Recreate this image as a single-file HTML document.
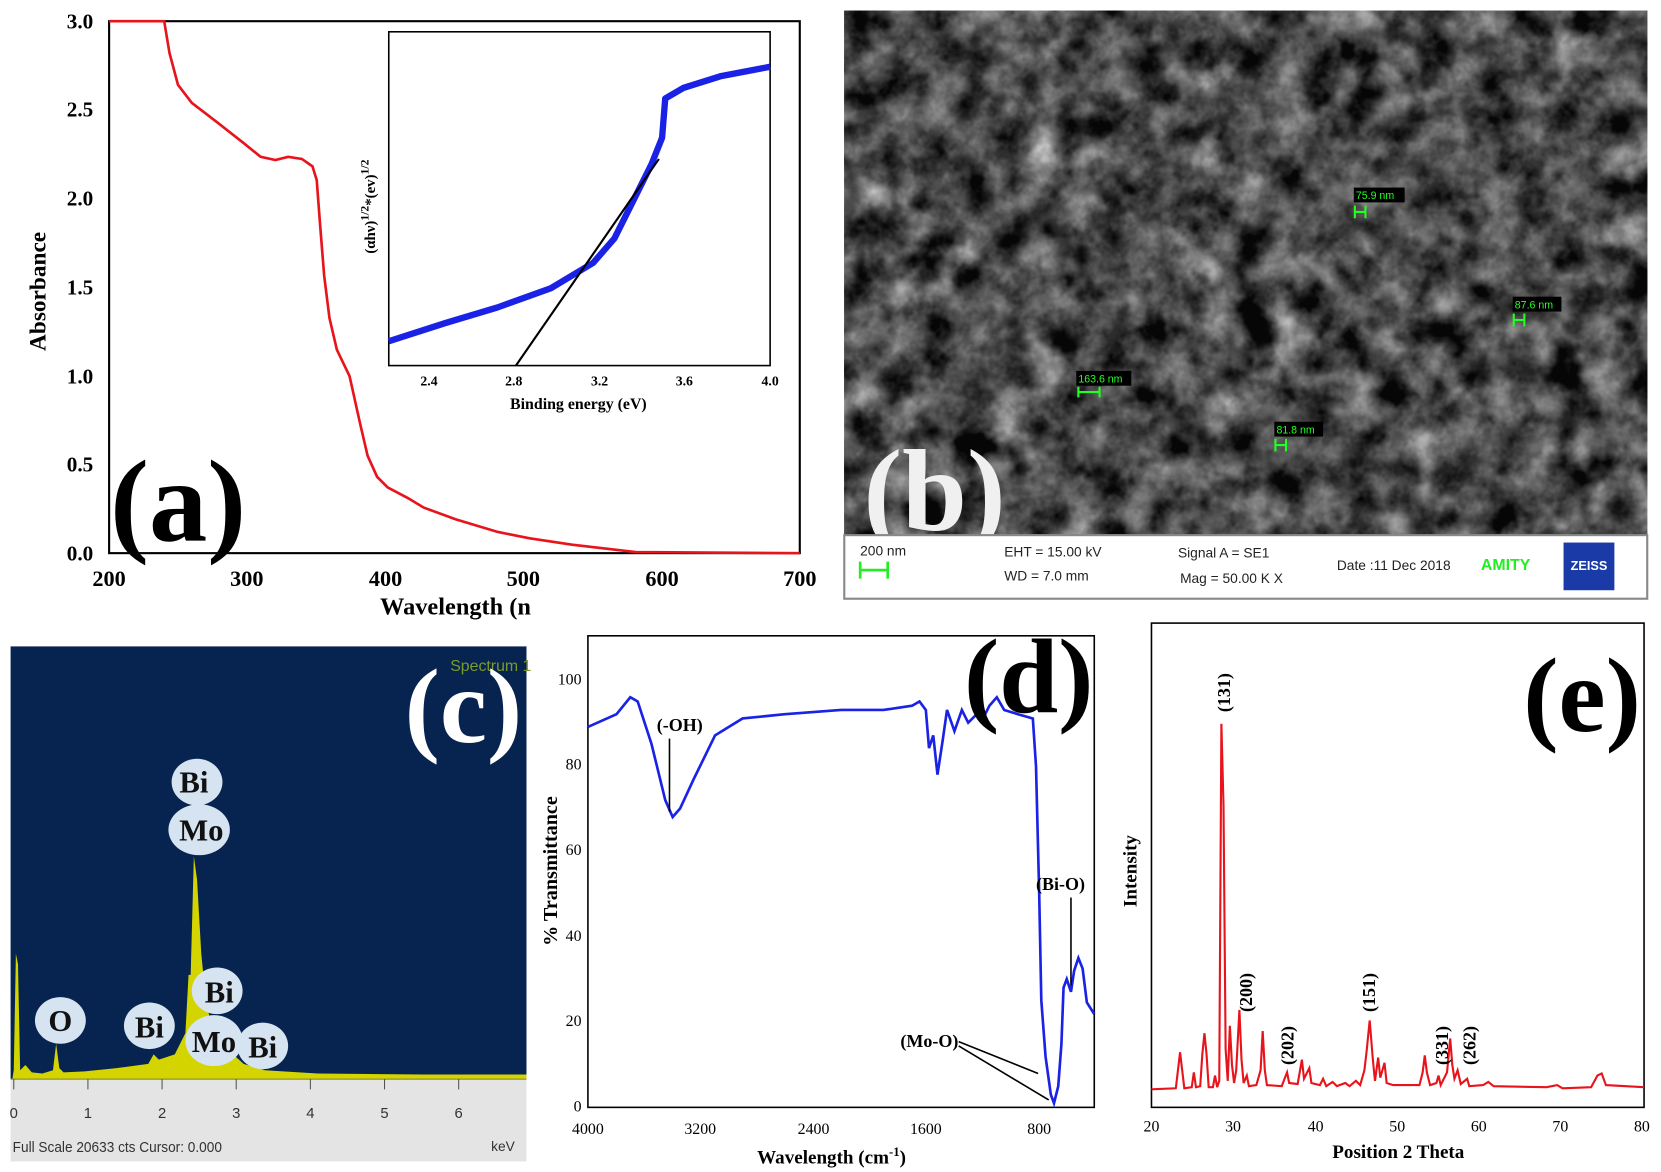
<!DOCTYPE html>
<html><head><meta charset="utf-8"><style>html,body{margin:0;padding:0;background:#fff}svg{display:block}</style></head><body>
<svg width="1661" height="1172" viewBox="0 0 1568 1106" preserveAspectRatio="none" xmlns="http://www.w3.org/2000/svg" font-family="Liberation Serif, serif">
<defs>
<filter id="sem" x="0" y="0" width="100%" height="100%" color-interpolation-filters="sRGB">
<feTurbulence type="fractalNoise" baseFrequency="0.03" numOctaves="4" seed="7"/>
<feColorMatrix type="matrix" values="0.33 0.33 0.33 0 0  0.33 0.33 0.33 0 0  0.33 0.33 0.33 0 0  0 0 0 0 1"/>
<feComponentTransfer><feFuncR type="linear" slope="2.2" intercept="-0.78"/><feFuncG type="linear" slope="2.2" intercept="-0.78"/><feFuncB type="linear" slope="2.2" intercept="-0.78"/></feComponentTransfer>
</filter>
</defs>
<rect width="1568" height="1106" fill="#fff"/>

<!-- Panel a -->
<rect x="103" y="20" width="652" height="502" fill="none" stroke="#000" stroke-width="2"/>
<g font-weight="bold" font-size="20" text-anchor="end">
<text x="88" y="27">3.0</text><text x="88" y="110">2.5</text><text x="88" y="194">2.0</text><text x="88" y="278">1.5</text><text x="88" y="362">1.0</text><text x="88" y="445">0.5</text><text x="88" y="529">0.0</text>
</g>
<g font-weight="bold" font-size="21" text-anchor="middle">
<text x="103" y="553">200</text><text x="233" y="553">300</text><text x="364" y="553">400</text><text x="494" y="553">500</text><text x="625" y="553">600</text><text x="755" y="553">700</text>
</g>
<text x="430" y="580" font-weight="bold" font-size="23" text-anchor="middle">Wavelength (n</text>
<text transform="translate(43,275) rotate(-90)" font-weight="bold" font-size="22" text-anchor="middle">Absorbance</text>
<polyline fill="none" stroke="#e8141c" stroke-width="2.5" points="103,20 155,20 160,50 168,80 181,97 207,117 230,135 246,148 260,151 272,148 285,150 295,157 299,170 302,210 306,260 311,300 318,330 330,355 340,400 347,430 356,450 366,460 385,470 400,479 430,490 470,502 500,508 540,514 600,521 755,522"/>
<text x="104" y="510" font-weight="bold" font-size="110">(a)</text>
<rect x="367" y="30" width="360" height="315" fill="#fff" stroke="#000" stroke-width="1.5"/>
<polyline fill="none" stroke="#1a22e6" stroke-width="6" stroke-linejoin="round" points="367,322 420,305 470,290 520,272 560,248 580,225 600,185 615,155 625,130 628,93 645,83 680,72 727,63"/>
<line x1="487" y1="345" x2="622" y2="150" stroke="#000" stroke-width="2"/>
<g font-weight="bold" font-size="13" text-anchor="middle">
<text x="405" y="364">2.4</text><text x="485" y="364">2.8</text><text x="566" y="364">3.2</text><text x="646" y="364">3.6</text><text x="727" y="364">4.0</text>
</g>
<text x="546" y="386" font-weight="bold" font-size="15" text-anchor="middle">Binding energy (eV)</text>
<text transform="translate(354,195) rotate(-90)" font-weight="bold" font-size="14" text-anchor="middle">(αhν)<tspan dy="-6" font-size="11">1/2</tspan><tspan dy="6">*(ev)</tspan><tspan dy="-6" font-size="11">1/2</tspan></text>

<!-- Panel b -->
<rect x="797" y="10" width="758" height="495" fill="#2a2a2a"/>
<rect x="797" y="10" width="758" height="495" filter="url(#sem)" opacity="0.85"/>
<text x="815" y="500" font-size="110" font-weight="bold" fill="#f0f0f0">(b)</text>
<g font-family="Liberation Sans, sans-serif" font-size="10" fill="#2f2">
<rect x="1278" y="177" width="48" height="14" fill="#000"/><text x="1280" y="188">75.9 nm</text>
<rect x="1428" y="280" width="46" height="14" fill="#000"/><text x="1430" y="291">87.6 nm</text>
<rect x="1016" y="350" width="52" height="14" fill="#000"/><text x="1018" y="361">163.6 nm</text>
<rect x="1203" y="398" width="46" height="14" fill="#000"/><text x="1205" y="409">81.8 nm</text>
</g>
<g stroke="#2f2" stroke-width="2" fill="none">
<path d="M1279,194v12M1289,194v12M1279,200h10"/><path d="M1429,296v12M1439,296v12M1429,302h10"/><path d="M1018,365v10M1038,365v10M1018,370h20"/><path d="M1204,414v12M1214,414v12M1204,420h10"/>
</g>
<rect x="797" y="505" width="758" height="60" fill="#fff" stroke="#888" stroke-width="2"/>
<g font-family="Liberation Sans, sans-serif" font-size="13" fill="#222">
<text x="812" y="524">200 nm</text><text x="948" y="525">EHT = 15.00 kV</text><text x="948" y="548">WD =  7.0 mm</text>
<text x="1112" y="526">Signal A = SE1</text><text x="1114" y="550">Mag =  50.00 K X</text><text x="1262" y="538">Date :11 Dec 2018</text>
</g>
<text x="1398" y="538" font-family="Liberation Sans, sans-serif" font-size="15" font-weight="bold" fill="#2e2">AMITY</text>
<path d="M812,530v16M838,530v16M812,538h26" stroke="#2e2" stroke-width="2.5"/>
<rect x="1476" y="512" width="48" height="45" fill="#1a3aa8"/>
<text x="1500" y="538" font-family="Liberation Sans, sans-serif" font-size="12" font-weight="bold" fill="#fff" text-anchor="middle">ZEISS</text>

<!-- Panel c -->
<rect x="10" y="610" width="487" height="408" fill="#06244f"/>
<rect x="10" y="1018" width="487" height="78" fill="#e4e4e4"/>
<line x1="10" y1="1018" x2="497" y2="1018" stroke="#555" stroke-width="1.5"/>
<g stroke="#555" stroke-width="1"><path d="M13,1018v10M83,1018v10M153,1018v10M223,1018v10M293,1018v10M363,1018v10M433,1018v10"/></g>
<g font-family="Liberation Sans, sans-serif" font-size="14" fill="#333" text-anchor="middle">
<text x="13" y="1055">0</text><text x="83" y="1055">1</text><text x="153" y="1055">2</text><text x="223" y="1055">3</text><text x="293" y="1055">4</text><text x="363" y="1055">5</text><text x="433" y="1055">6</text>
</g>
<text x="486" y="1086" font-family="Liberation Sans, sans-serif" font-size="13" fill="#333" text-anchor="end">keV</text>
<text x="12" y="1087" font-family="Liberation Sans, sans-serif" font-size="14" fill="#333" transform="scale(0.92,1) translate(1,0)">Full Scale 20633 cts Cursor: 0.000</text>
<text x="425" y="633" font-family="Liberation Sans, sans-serif" font-size="15" fill="#7a9a2a">Spectrum 1</text>
<polygon fill="#d4d400" points="12,1016 13,1010 15,900 17,910 19,1010 24,1005 30,1012 40,1013 50,1010 53,985 56,1008 60,1012 80,1011 110,1008 140,1004 145,995 150,1000 165,995 175,975 178,920 180,920 183,808 186,830 190,900 193,930 200,975 210,990 220,995 230,1004 250,1010 300,1013 400,1014 497,1014 497,1018 12,1018"/>
<g fill="#d6e4f2">
<ellipse cx="186" cy="738" rx="24" ry="22"/><ellipse cx="188" cy="783" rx="29" ry="24"/>
<ellipse cx="57" cy="963" rx="24" ry="22"/><ellipse cx="141" cy="968" rx="24" ry="22"/>
<ellipse cx="205" cy="935" rx="24" ry="22"/><ellipse cx="202" cy="982" rx="27" ry="24"/><ellipse cx="248" cy="987" rx="24" ry="22"/>
</g>
<g font-weight="bold" font-size="29" text-anchor="middle" fill="#111">
<text x="183" y="748">Bi</text><text x="190" y="793">Mo</text><text x="57" y="973">O</text><text x="141" y="979">Bi</text>
<text x="207" y="946">Bi</text><text x="202" y="993">Mo</text><text x="248" y="998">Bi</text>
</g>
<text x="382" y="700" font-weight="bold" font-size="100" fill="#fff">(c)</text>

<!-- Panel d -->
<rect x="555" y="600" width="478" height="445" fill="none" stroke="#000" stroke-width="1.5"/>
<g font-size="15" text-anchor="end">
<text x="549" y="1049">0</text><text x="549" y="968">20</text><text x="549" y="888">40</text><text x="549" y="807">60</text><text x="549" y="726">80</text><text x="549" y="646">100</text>
</g>
<g font-size="15" text-anchor="middle">
<text x="555" y="1070">4000</text><text x="661" y="1070">3200</text><text x="768" y="1070">2400</text><text x="874" y="1070">1600</text><text x="981" y="1070">800</text>
</g>
<text x="785" y="1098" font-weight="bold" font-size="18" text-anchor="middle">Wavelength (cm<tspan dy="-7" font-size="12">-1</tspan><tspan dy="7">)</tspan></text>
<text transform="translate(526,822) rotate(-90)" font-weight="bold" font-size="19" text-anchor="middle">% Transmittance</text>
<polyline fill="none" stroke="#1a22e6" stroke-width="2.5" points="555,686 582,674 595,658 602,662 615,702 628,755 635,771 642,763 655,735 675,694 701,678 741,674 794,670 834,670 861,666 868,662 874,670 877,706 881,694 885,731 890,698 894,670 901,690 908,670 914,682 921,675 928,678 934,666 941,658 948,670 961,674 975,678 978,723 981,843 983,944 987,997 992,1033 995,1041 999,1025 1002,985 1004,932 1007,924 1011,936 1014,916 1018,904 1022,914 1026,946 1033,957"/>
<text x="620" y="690" font-weight="bold" font-size="17">(-OH)</text>
<line x1="632" y1="697" x2="632" y2="766" stroke="#000" stroke-width="1.5"/>
<text x="978" y="840" font-weight="bold" font-size="17">(Bi-O)</text>
<line x1="1011" y1="847" x2="1011" y2="930" stroke="#000" stroke-width="1.5"/>
<text x="850" y="988" font-weight="bold" font-size="17">(Mo-O)</text>
<path d="M905,983 L980,1013 M905,987 L990,1038" stroke="#000" stroke-width="1.5"/>
<text x="910" y="672" font-weight="bold" font-size="100">(d)</text>

<!-- Panel e -->
<rect x="1087" y="588" width="465" height="457" fill="none" stroke="#000" stroke-width="1.5"/>
<g font-size="15" text-anchor="middle">
<text x="1087" y="1068">20</text><text x="1164" y="1068">30</text><text x="1242" y="1068">40</text><text x="1319" y="1068">50</text><text x="1396" y="1068">60</text><text x="1473" y="1068">70</text><text x="1550" y="1068">80</text>
</g>
<text x="1320" y="1093" font-weight="bold" font-size="18" text-anchor="middle">Position 2 Theta</text>
<text transform="translate(1073,822) rotate(-90)" font-weight="bold" font-size="18" text-anchor="middle">Intensity</text>
<polyline fill="none" stroke="#e8141c" stroke-width="2" points="1087,1028 1110,1027 1112,1010 1114,993 1116,1010 1118,1027 1125,1026 1127,1012 1129,1026 1133,1025 1135,995 1137,975 1139,995 1141,1026 1145,1026 1147,1015 1149,1026 1151,1020 1153,683 1155,760 1157,990 1159,1020 1161,968 1163,1005 1165,1022 1167,1010 1170,953 1172,1000 1174,1022 1177,1015 1179,1025 1186,1024 1190,1010 1192,973 1194,1010 1196,1024 1210,1025 1213,1017 1215,1012 1217,1022 1225,1023 1229,1000 1231,1018 1236,1008 1238,1022 1246,1024 1249,1018 1252,1025 1258,1021 1262,1025 1270,1022 1274,1025 1280,1020 1284,1024 1288,1010 1290,993 1293,963 1296,1000 1298,1020 1301,998 1303,1017 1307,1003 1309,1022 1315,1024 1340,1024 1343,1012 1345,996 1347,1012 1350,1024 1356,1022 1358,1015 1360,1024 1366,1012 1369,980 1371,1005 1373,1018 1376,1010 1379,1023 1385,1018 1387,1025 1400,1024 1405,1021 1410,1025 1460,1026 1470,1024 1475,1027 1502,1026 1508,1015 1512,1013 1516,1024 1552,1026"/>
<g font-weight="bold" font-size="17">
<text transform="translate(1161,672) rotate(-90)">(131)</text>
<text transform="translate(1182,955) rotate(-90)">(200)</text>
<text transform="translate(1221,1005) rotate(-90)">(202)</text>
<text transform="translate(1298,955) rotate(-90)">(151)</text>
<text transform="translate(1367,1005) rotate(-90)">(331)</text>
<text transform="translate(1393,1005) rotate(-90)">(262)</text>
</g>
<text x="1438" y="690" font-weight="bold" font-size="100">(e)</text>
</svg>
</body></html>
